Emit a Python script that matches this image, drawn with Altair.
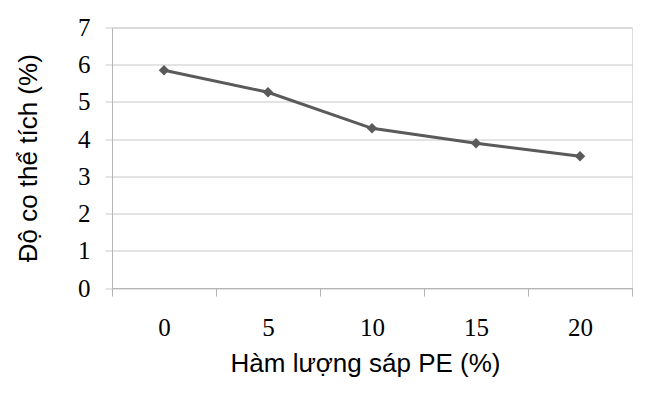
import altair as alt
import pandas as pd

categories = ["0", "5", "10", "15", "20"]
values = [5.85, 5.26, 4.29, 3.89, 3.54]
y_ticks = [0, 1, 2, 3, 4, 5, 6, 7]

df = pd.DataFrame({"x": categories, "y": values})

x_enc = alt.X(
    "x:O",
    sort=categories,
    scale=alt.Scale(type="band", paddingInner=0, paddingOuter=0),
    bandPosition=0.5,
    axis=alt.Axis(
        title="Hàm lượng sáp PE (%)",
        labelAngle=0,
        tickBand="extent",
        grid=False,
        domainColor="#b5b5b5",
        tickColor="#b5b5b5",
        tickSize=8,
        labelFont="Liberation Serif",
        labelFontSize=25,
        labelColor="#000000",
        labelPadding=19,
        titleFont="Liberation Sans",
        titleFontSize=26,
        titleFontWeight="normal",
        titleColor="#000000",
        titlePadding=10,
        titleX=253,
    ),
)

y_enc = alt.Y(
    "y:Q",
    scale=alt.Scale(domain=[0, 7], nice=False, zero=True),
    axis=alt.Axis(
        title="Độ co thể tích (%)",
        values=y_ticks,
        grid=True,
        gridColor="#c8c8c8",
        gridWidth=1.2,
        domainColor="#b5b5b5",
        tickColor="#c8c8c8",
        tickSize=7,
        labelFont="Liberation Serif",
        labelFontSize=25,
        labelColor="#000000",
        labelPadding=15,
        titleFont="Liberation Sans",
        titleFontSize=26,
        titleFontWeight="normal",
        titleColor="#000000",
        titlePadding=36,
    ),
)

line = alt.Chart(df).mark_line(color="#5a5a5a", strokeWidth=3).encode(x=x_enc, y=y_enc)
pts = alt.Chart(df).mark_point(shape="diamond", filled=True, color="#5a5a5a", size=110, opacity=1).encode(x=x_enc, y=y_enc)

chart = (
    alt.layer(line, pts)
    .properties(
        width=520,
        height=260.5,
        autosize=alt.AutoSizeParams(type="none"),
        padding={"left": 104, "top": 19.5, "right": 11, "bottom": 102},
    )
    .configure_view(stroke=None)
    .configure(background="white")
)

chart.save("out.html", embed_options={"renderer": "svg", "actions": False})
